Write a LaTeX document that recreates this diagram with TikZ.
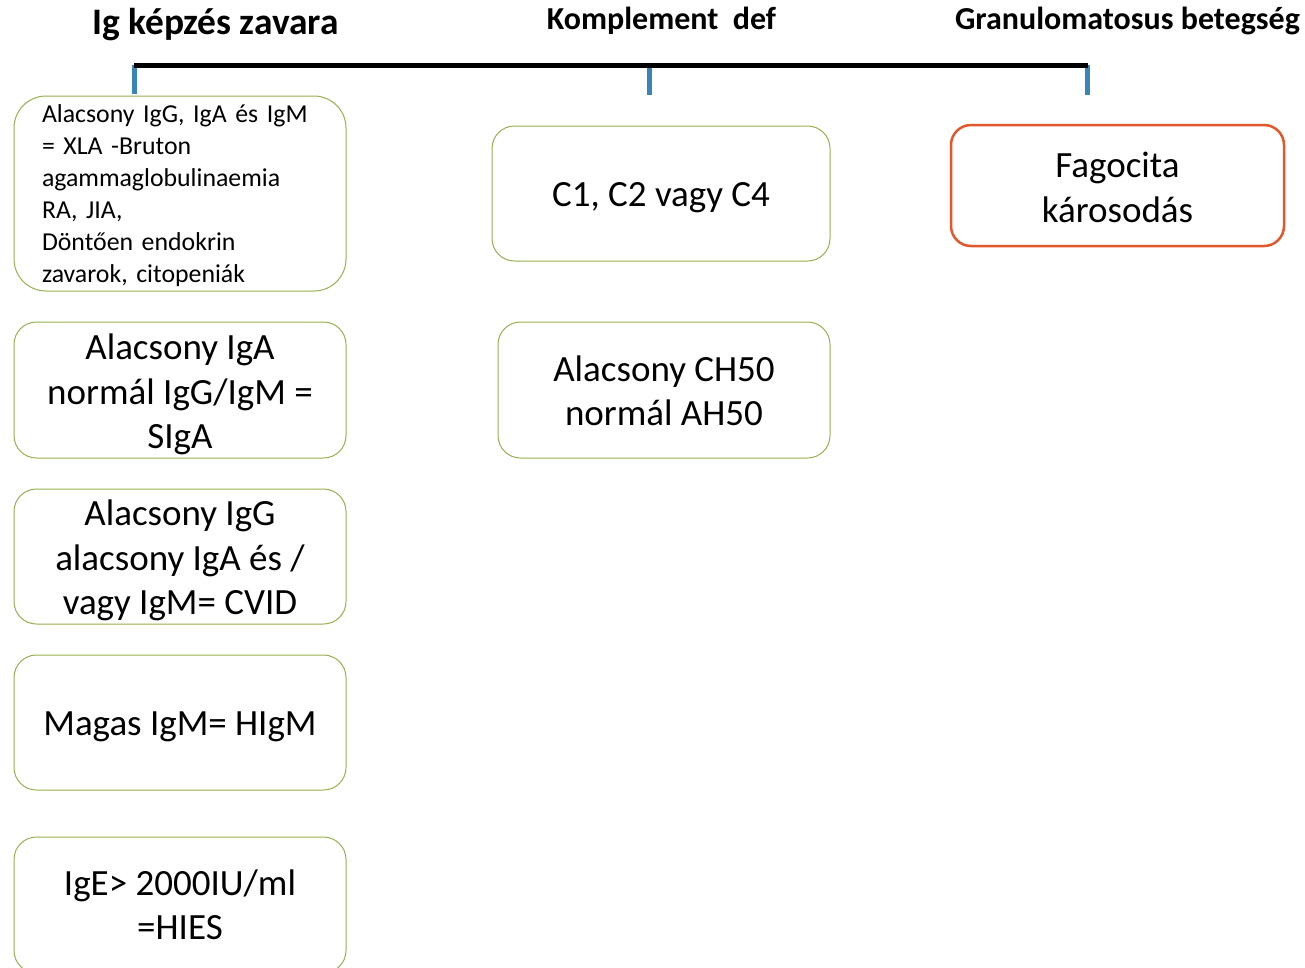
\documentclass[tikz,border=0pt]{standalone}
\usepackage{fontspec}
\setmainfont{Carlito}
\frenchspacing
\definecolor{boxgreen}{HTML}{98B04F}
\definecolor{boxorange}{HTML}{E3582B}
\definecolor{tickblue}{HTML}{3A85B8}
\begin{document}
\begin{tikzpicture}[x=1pt,y=-1pt,
  head/.style={anchor=base,font=\bfseries\fontsize{32}{38}\selectfont},
  gbox/.style={draw=boxgreen,line width=1pt,rounded corners=22.5pt,fill=white,
    minimum width=332pt,inner sep=0pt},
  obox/.style={draw=boxorange,line width=2.5pt,rounded corners=20pt,fill=white,
    minimum width=333pt,minimum height=121pt,inner sep=0pt},
  txt/.style={align=center,inner sep=0pt,font=\fontsize{37}{44.5}\selectfont},
  tick/.style={draw=tickblue,line width=5pt},
  bar/.style={draw=black,line width=5pt}]
\useasboundingbox (0,0) rectangle (1305,967);
\clip (0,0) rectangle (1305,967);
% headings
\node[head,font=\bfseries\fontsize{37.4}{42}\selectfont] (h1) at (215.5,34) {Ig képzés zavara};
\node[head] (h2) at (661.5,29) {Komplement\ \ def};
\node[head] (h3) at (1127.5,29) {Granulomatosus betegség};
% bar and ticks
\coordinate (bl) at (134,65.5);
\coordinate (br) at (1088,65.5);
\coordinate (t1) at (134,65);
\coordinate (t1e) at (134,94);
\coordinate (t2) at (649,65);
\coordinate (t2e) at (649,95);
\coordinate (t3) at (1087,65);
\coordinate (t3e) at (1087,95);
\draw[tick] (t1) -- (t1e);
\draw[tick] (t2) -- (t2e);
\draw[tick] (t3) -- (t3e);
\draw[bar] (bl) -- (br);
% left column
\node[gbox,minimum height=195pt,rounded corners=32pt] (b1) at (180,193.5) {};
\node[txt,text width=276pt,align=left,font=\fontsize{25.8}{32}\selectfont]
  (b1t) at ([yshift=-2pt]b1.center)
  {Alacsony IgG, IgA és IgM\\= XLA -Bruton\\agammaglobulinaemia\\RA, JIA,\\Döntően endokrin\\zavarok, citopeniák};
\node[gbox,minimum height=136pt] (b2) at (180,390) {};
\node[txt] (b2t) at ([yshift=-4.5pt]b2.center) {Alacsony IgA\\normál IgG/IgM =\\SIgA};
\node[gbox,minimum height=135pt] (b3) at (180,556.5) {};
\node[txt] (b3t) at ([yshift=-4pt]b3.center) {Alacsony IgG\\alacsony IgA és /\\vagy IgM= CVID};
\node[gbox,minimum height=135pt] (b4) at (180,722.5) {};
\node[txt] (b4t) at ([yshift=-4pt]b4.center) {Magas IgM= HIgM};
\node[gbox,minimum height=136pt] (b5) at (180,905) {};
\node[txt] (b5t) at ([yshift=0pt]b5.center) {IgE> 2000IU/ml\\=HIES};
% middle column
\node[gbox,minimum width=338pt,minimum height=135pt] (c1) at (661,193.5) {};
\node[txt] (c1t) at ([yshift=-4.5pt]c1.center) {C1, C2 vagy C4};
\node[gbox,minimum height=136pt] (c2) at (664,390) {};
\node[txt] (c2t) at ([yshift=-1pt]c2.center) {Alacsony CH50\\normál AH50};
% right column
\node[obox] (f1) at (1117.5,185.5) {};
\node[txt] (f1t) at ([yshift=-2pt]f1.center) {Fagocita\\károsodás};
\end{tikzpicture}
\end{document}
